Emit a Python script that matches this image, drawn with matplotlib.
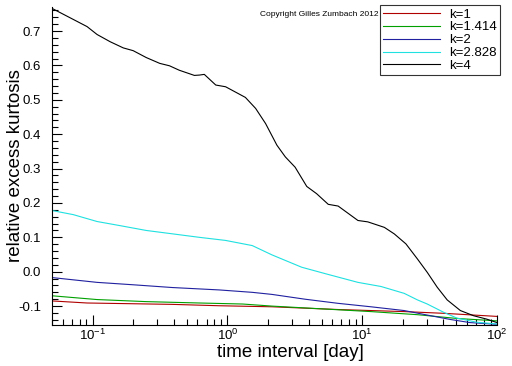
import numpy as np
import matplotlib
matplotlib.use("Agg")
import matplotlib.pyplot as plt
from matplotlib.ticker import MultipleLocator, LogLocator, NullFormatter, FuncFormatter

plt.rcParams['font.family'] = ['Liberation Sans', 'DejaVu Sans']
plt.rcParams['mathtext.fontset'] = 'custom'
plt.rcParams['mathtext.rm'] = 'Liberation Sans'
plt.rcParams['mathtext.it'] = 'Liberation Sans'

# k = 1
x_k1 = [0.05, 0.091, 0.39, 0.87, 2.14, 6.63, 20.5, 40.2, 100]
y_k1 = [-0.085, -0.091, -0.095, -0.099, -0.102, -0.110, -0.116, -0.121, -0.130]
# k = 1.414
x_k1414 = [0.05, 0.108, 0.25, 0.62, 1.3, 2.14, 5.0, 11.6, 25.7, 50.5, 100]
y_k1414 = [-0.070, -0.081, -0.087, -0.091, -0.094, -0.100, -0.108, -0.116, -0.125, -0.136, -0.143]
# k = 2
x_k2 = [0.05, 0.108, 0.2, 0.39, 0.87, 1.53, 2.14, 3.77, 6.63, 11.6, 20.5, 32.2, 45.2, 63, 100]
y_k2 = [-0.017, -0.031, -0.038, -0.046, -0.053, -0.060, -0.066, -0.080, -0.092, -0.102, -0.113,
        -0.128, -0.139, -0.148, -0.153]
# k = 2.828
x_k2828 = [0.05, 0.072, 0.108, 0.16, 0.25, 0.394, 0.62, 0.97, 1.53, 2.14, 3.56, 5.6, 9.3, 13.8,
           20.5, 25.7, 30.4, 40.2, 50.5, 71, 100]
y_k2828 = [0.178, 0.166, 0.146, 0.134, 0.120, 0.110, 0.100, 0.091, 0.076, 0.049, 0.013, -0.008,
           -0.031, -0.043, -0.063, -0.082, -0.094, -0.118, -0.135, -0.147, -0.152]
# k = 4
x_k4 = [0.05, 0.091, 0.108, 0.135, 0.169, 0.2, 0.25, 0.315, 0.372, 0.44, 0.569, 0.62, 0.674, 0.82,
        0.97, 1.36, 1.62, 1.92, 2.33, 2.69, 3.18, 3.88, 4.59, 5.6, 6.63, 9.3, 11.0, 14.6, 17.3,
        21.1, 25.7, 30.4, 36.0, 42.7, 53.5, 67, 84, 100]
y_k4 = [0.766, 0.713, 0.690, 0.669, 0.651, 0.643, 0.623, 0.606, 0.599, 0.586, 0.571, 0.572, 0.574,
        0.543, 0.538, 0.507, 0.475, 0.431, 0.368, 0.334, 0.304, 0.248, 0.227, 0.196, 0.191, 0.149,
        0.145, 0.129, 0.110, 0.081, 0.037, -0.002, -0.045, -0.082, -0.113, -0.128, -0.138, -0.148]

labels = ["k=1", "k=1.414", "k=2", "k=2.828", "k=4"]
colors = ["#b00000", "#00a000", "#2020a0", "#20e0e0", "#000000"]

W, H = 512, 366
fig = plt.figure(figsize=(W/100, H/100), dpi=100)
ax = fig.add_axes([52/W, 1-325/H, (497-52)/W, (325-7)/H])

series = [(x_k1, y_k1), (x_k1414, y_k1414), (x_k2, y_k2), (x_k2828, y_k2828), (x_k4, y_k4)]
for (xs, ys), lab, c in zip(series, labels, colors):
    ax.plot(xs, ys, color=c, lw=0.8, label=lab)

ax.set_xscale('log')
ax.set_xlim(0.05, 100)
ax.set_ylim(-0.155, 0.77)
ax.yaxis.set_major_locator(MultipleLocator(0.1))
ax.yaxis.set_minor_locator(MultipleLocator(0.02))
ax.xaxis.set_major_locator(LogLocator(base=10))
ax.xaxis.set_minor_locator(LogLocator(base=10, subs=np.arange(2, 10)))
ax.xaxis.set_minor_formatter(NullFormatter())
ax.yaxis.set_major_formatter(FuncFormatter(lambda v, p: f"{v:.1f}"))

for s in ['top', 'right']:
    ax.spines[s].set_visible(False)
ax.tick_params(which='major', direction='in', length=7, width=0.8, labelsize=9.5)
ax.tick_params(which='minor', direction='in', length=4, width=0.8)
ax.tick_params(axis='x', pad=2)
ax.tick_params(axis='y', pad=8)

ax.set_xlabel("time interval [day]", fontsize=13.5, va='top')
ax.xaxis.set_label_coords((290-52)/445, -(344-325)/318)
ax.set_ylabel("relative excess kurtosis", fontsize=13.5)
ax.yaxis.set_label_coords((24-52)/445, 0.5)

leg = fig.legend(loc='upper right', bbox_to_anchor=(500/W, 1-5/H), fontsize=9.5, frameon=True,
                 fancybox=False, edgecolor='black', handlelength=4.3, handletextpad=0.7,
                 labelspacing=0.05, borderpad=0.25, borderaxespad=0.0)
leg.get_frame().set_linewidth(0.8)
fig.text(378/W, 1-15/H, "Copyright Gilles Zumbach 2012", fontsize=6, ha='right', va='center')

fig.savefig("out.png", dpi=100)
